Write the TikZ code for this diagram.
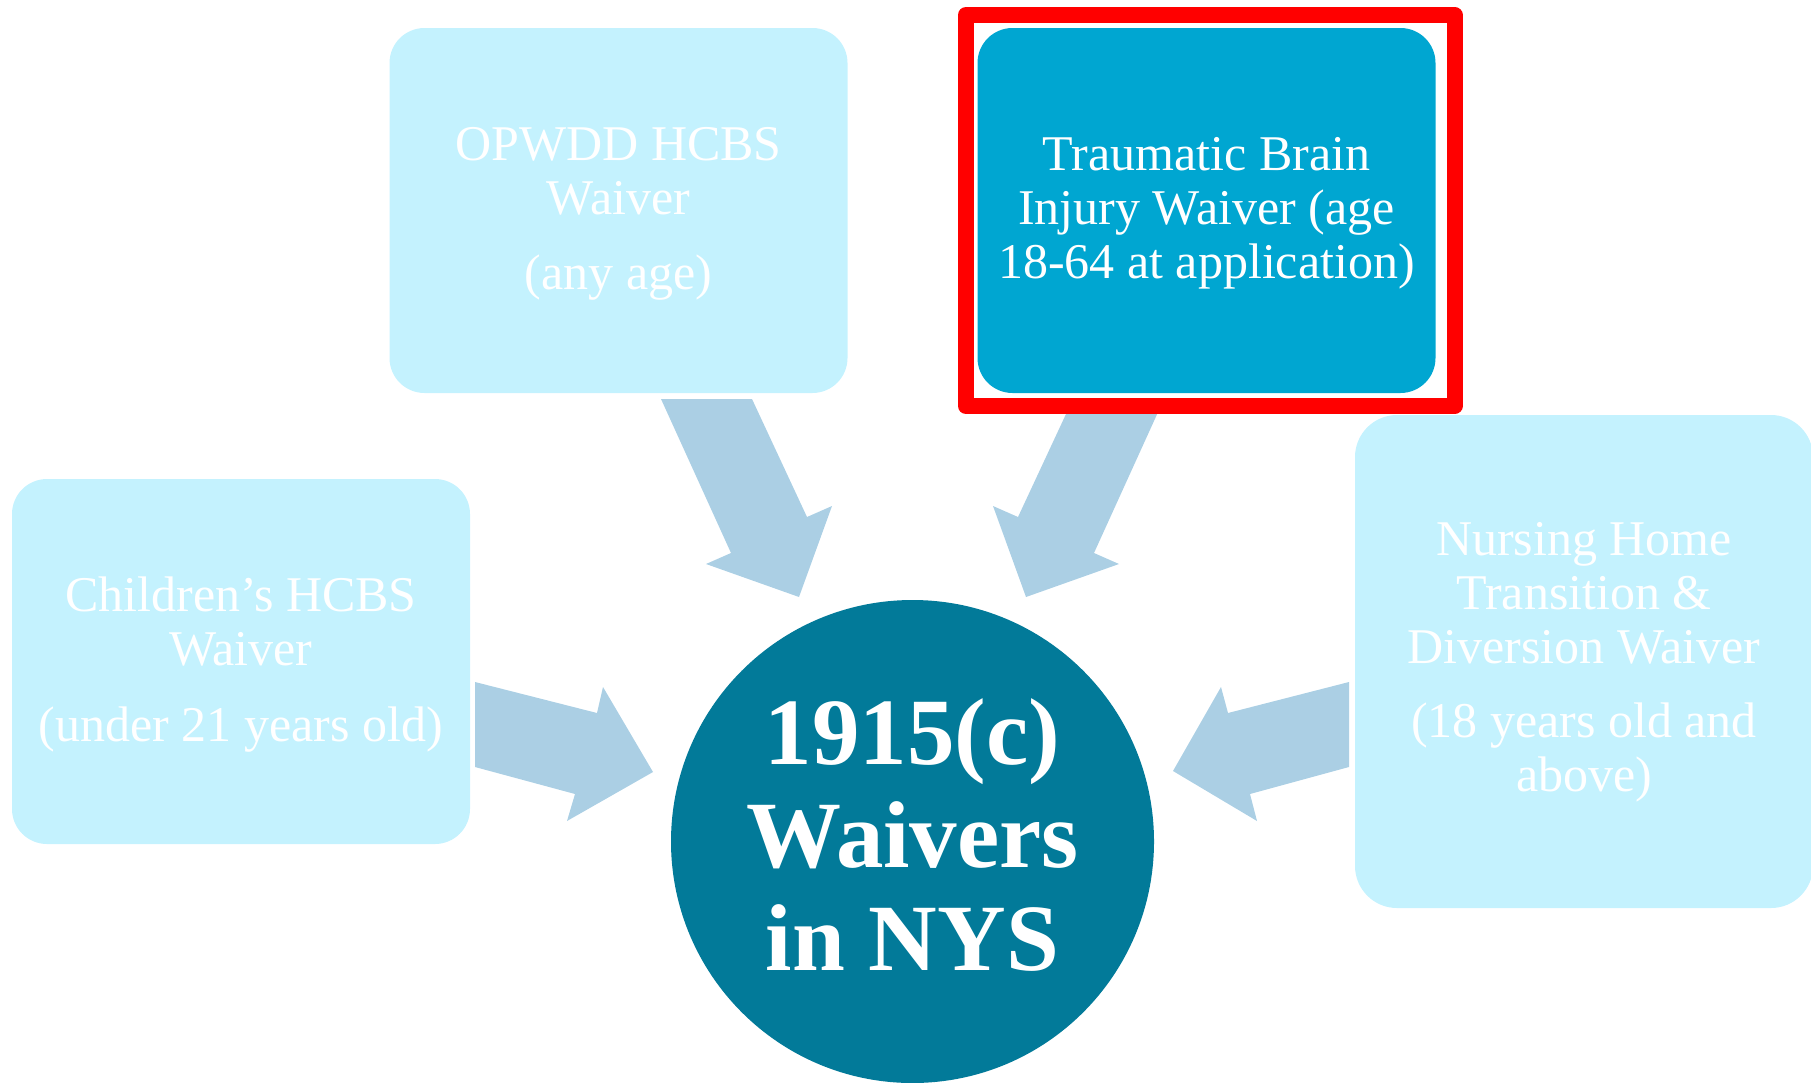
\documentclass[tikz,border=0pt]{standalone}
\usepackage{fontspec}
\setmainfont{Liberation Serif}
\definecolor{paleblue}{RGB}{196,242,254}
\definecolor{activeblue}{RGB}{0,166,209}
\definecolor{hubteal}{RGB}{2,122,153}
\definecolor{flowblue}{RGB}{171,207,228}
\definecolor{markred}{RGB}{255,0,0}

\begin{document}
\begin{tikzpicture}[x=1pt,y=-1pt,
  card/.style={rounded corners=35pt, minimum width=458pt, minimum height=365pt, inner sep=0pt, draw=none},
  pale/.style={card, fill=paleblue},
  cardtext/.style={text=white, align=center, inner sep=0pt, font=\fontsize{50}{54}\selectfont},
  hub/.style={circle, fill=hubteal, minimum size=483pt, inner sep=0pt},
  hubtext/.style={text=white, align=center, inner sep=0pt, font=\fontsize{95}{103}\selectfont\bfseries},
  flow/.style={fill=flowblue, draw=none},
  highlight/.style={draw=markred, line width=16pt, line join=round}]

\clip (0,0) rectangle (1811,1082);

% waiver cards
\node[pale] (opwdd) at (618.5,210.5) {};
\node[pale] (children) at (241,661.5) {};
\node[card, fill=activeblue] (tbi) at (1206.5,210.5) {};
\node[pale, minimum height=493pt, rounded corners=42pt] (nursing) at (1584,661.5) {};

% card labels
\node[cardtext] (opwdd-text) at (618.5,213.5) {OPWDD HCBS\\ Waiver\\[21pt] (any age)};
\node[cardtext] (children-text) at (241,664.5) {Children’s HCBS\\ Waiver\\[22pt] (under 21 years old)};
\node[cardtext] (tbi-text) at (1206.5,213.5) {Traumatic Brain\\ Injury Waiver (age\\ 18-64 at application)};
\node[cardtext] (nursing-text) at (1584,662.5) {Nursing Home\\ Transition \&\\ Diversion Waiver\\[20pt] (18 years old and\\ above)};

% block arrows pointing at the hub
\fill[flow] (661,399) -- (752,399) -- (807,517) -- (832,506) -- (799,597) -- (706,564) -- (731,553) -- cycle;
\fill[flow] (1164,399) -- (1073,399) -- (1018,517) -- (993,506) -- (1026,597) -- (1119,564) -- (1094,553) -- cycle;
\fill[flow] (475,682) -- (597,713) -- (603,687) -- (653,772) -- (567,821) -- (575,794) -- (475,767) -- cycle;
\fill[flow] (1349,682) -- (1228,713) -- (1221,687) -- (1173,771) -- (1257,821) -- (1250,794) -- (1349,767) -- cycle;

% highlight frame around the selected waiver
\draw[highlight] (966,15) rectangle (1454.5,406);

% central hub
\node[hub] (center) at (912.5,841.5) {};
\node[hubtext] (center-text) at (912.5,835) {1915(c)\\ Waivers\\ in NYS};
\end{tikzpicture}
\end{document}
